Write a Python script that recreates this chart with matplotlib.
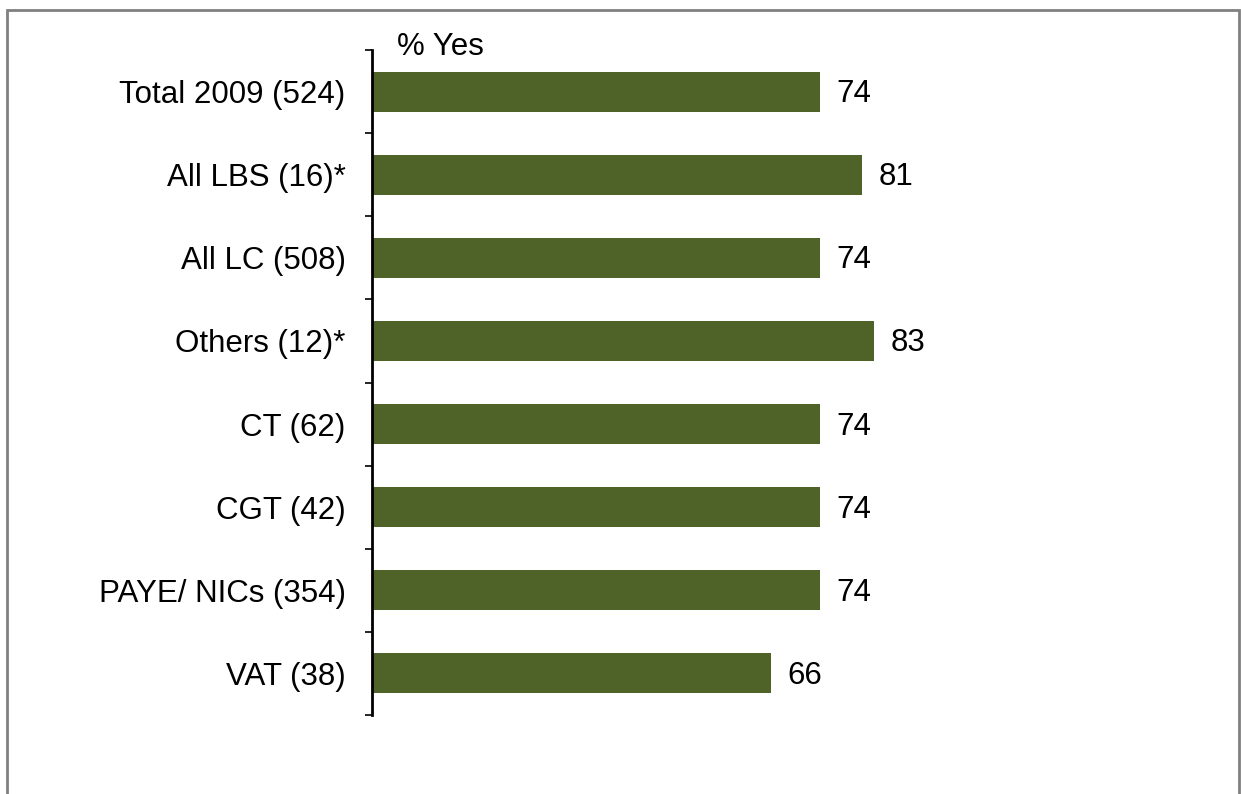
import matplotlib.pyplot as plt
import matplotlib.patches as patches
import numpy as np

plt.rcParams['font.family'] = ['Liberation Sans', 'DejaVu Sans']

categories = ["Total 2009 (524)", "All LBS (16)*", "All LC (508)", "Others (12)*",
              "CT (62)", "CGT (42)", "PAYE/ NICs (354)", "VAT (38)"]
values = [74, 81, 74, 83, 74, 74, 74, 66]

fig = plt.figure(figsize=(12.41, 7.94), dpi=100)
ax = fig.add_axes([0.2998, 0.0995, 0.4875, 0.8375])

y = np.arange(len(categories))
ax.barh(y, values, height=0.48, color="#4F6228")

for yi, v in zip(y, values):
    ax.text(v + 2.7, yi + 0.03, str(v), va="center", ha="left", fontsize=22.5)

ax.set_ylim(len(categories) - 0.5, -0.5)
ax.set_xlim(0, 100)
ax.set_yticks(y)
ax.set_yticklabels(categories, fontsize=22.5)
ax.set_yticks(np.arange(len(categories) + 1) - 0.5, minor=True)
ax.tick_params(axis="y", which="major", length=0, pad=19)
ax.tick_params(axis="y", which="minor", length=5, width=1.2, direction="out")
ax.set_xticks([])

for s in ["top", "right", "bottom"]:
    ax.spines[s].set_visible(False)
ax.spines["left"].set_linewidth(2)

ax.text(0.041, 0.9925, "% Yes", transform=ax.transAxes, fontsize=22.5, ha="left", va="baseline")

border = patches.Rectangle((0.0056, -0.05), 0.9928, 1.0374, transform=fig.transFigure,
                           fill=False, edgecolor="#808080", linewidth=2, clip_on=False)
fig.patches.append(border)

fig.savefig("out.png", dpi=100)
